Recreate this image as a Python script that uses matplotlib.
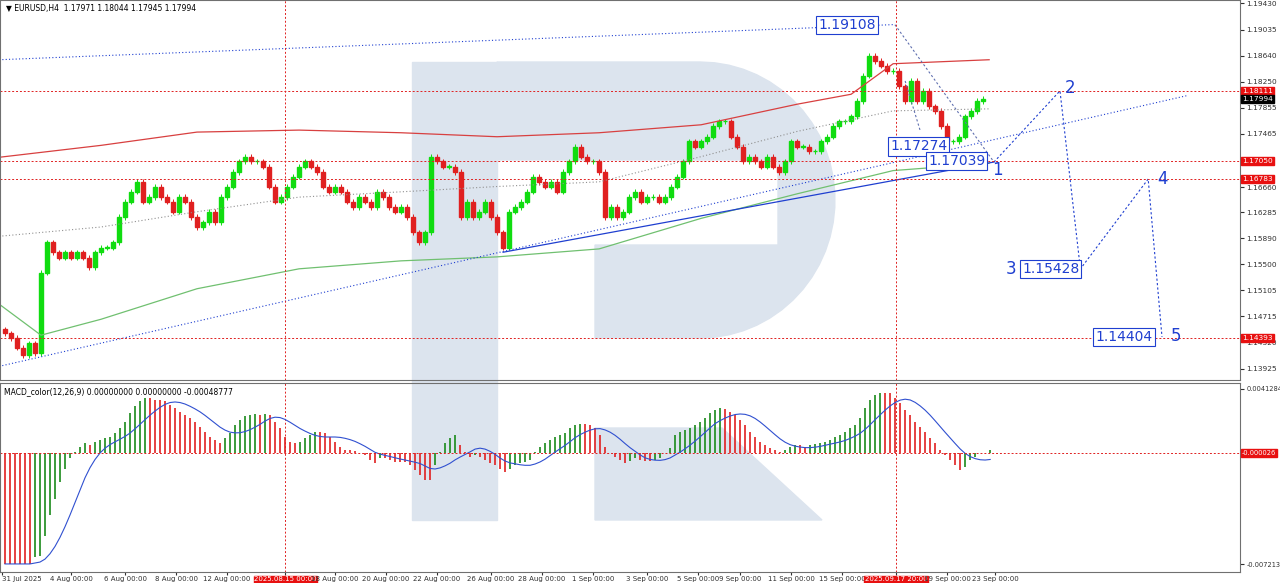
import numpy as np
import pandas as pd
import matplotlib
matplotlib.use("Agg")
import matplotlib.pyplot as plt
from matplotlib.patches import Polygon, Rectangle

# EURUSD H4 closes
closes = [1.1446, 1.1439, 1.1424, 1.1413, 1.1431, 1.1416, 1.1537, 1.1583, 1.1568, 1.1560, 1.1568, 1.1560,
          1.1568, 1.1560, 1.1545, 1.1568, 1.1575, 1.1575, 1.1583, 1.1621, 1.1644, 1.1659, 1.1674, 1.1644,
          1.1651, 1.1667, 1.1651, 1.1644, 1.1629, 1.1651, 1.1644, 1.1621, 1.1606, 1.1613, 1.1629, 1.1613,
          1.1651, 1.1667, 1.1689, 1.1705, 1.1712, 1.1705, 1.1705, 1.1697, 1.1667, 1.1644, 1.1651, 1.1667,
          1.1682, 1.1697, 1.1705, 1.1697, 1.1689, 1.1667, 1.1659, 1.1667, 1.1659, 1.1644, 1.1636, 1.1651,
          1.1644, 1.1636, 1.1659, 1.1651, 1.1636, 1.1629, 1.1636, 1.1621, 1.1598, 1.1583, 1.1598, 1.1712,
          1.1705, 1.1697, 1.1697, 1.1689, 1.1621, 1.1644, 1.1621, 1.1629, 1.1644, 1.1621, 1.1598, 1.1575,
          1.1629, 1.1636, 1.1644, 1.1659, 1.1682, 1.1674, 1.1667, 1.1674, 1.1659, 1.1689, 1.1705, 1.1727,
          1.1712, 1.1705, 1.1705, 1.1689, 1.1621, 1.1636, 1.1621, 1.1629, 1.1651, 1.1659, 1.1644, 1.1651,
          1.1651, 1.1644, 1.1651, 1.1667, 1.1682, 1.1705, 1.1735, 1.1727, 1.1735, 1.1742, 1.1758, 1.1765,
          1.1765, 1.1742, 1.1727, 1.1705, 1.1712, 1.1705, 1.1697, 1.1712, 1.1697, 1.1689, 1.1705, 1.1735,
          1.1727, 1.1727, 1.1720, 1.1720, 1.1735, 1.1742, 1.1758, 1.1765, 1.1765, 1.1773, 1.1796, 1.1834,
          1.1864, 1.1856, 1.1849, 1.1841, 1.1841, 1.1818, 1.1796, 1.1826, 1.1796, 1.1811, 1.1788, 1.1781,
          1.1758, 1.1735, 1.1735, 1.1742, 1.1773, 1.1781, 1.1796, 1.1799]
first_open = 1.1452

# MACD main line values (x 1e-4), one per MACD bar
macd_vals = [-71.8, -71.8, -71.8, -71.8, -71.8, -71.8, -67.5, -66.4, -53.5, -40.5, -29.6, -18.8, -10.2, -3.7,
             0.6, 3.9, 6.1, 5.0, 7.1, 8.2, 9.3, 10.4, 12.6, 15.8, 20.1, 25.5, 29.9, 33.1, 35.3, 35.3, 34.2,
             34.2, 33.1, 30.9, 28.8, 26.6, 24.5, 22.3, 20.1, 16.9, 13.6, 10.4, 8.2, 6.1, 9.3, 12.6, 18.0,
             21.2, 23.4, 24.5, 25.1, 24.5, 25.1, 24.5, 20.1, 15.8, 10.4, 7.1, 6.1, 7.1, 9.3, 11.5, 13.6,
             13.6, 12.6, 10.4, 7.1, 3.9, 1.7, 1.7, 1.1, 0.0, -1.5, -4.8, -6.9, -3.2, -3.7, -4.8, -5.8, -5.8,
             -5.8, -8.0, -11.3, -14.5, -17.7, -17.7, -8.0, 0.6, 6.1, 9.3, 11.5, 5.0, 0.6, -2.6, -1.5, -2.6,
             -4.8, -6.9, -8.0, -10.2, -12.3, -10.2, -8.0, -6.9, -5.8, -4.8, 0.6, 3.9, 6.1, 8.2, 10.4, 11.5,
             12.6, 15.8, 18.0, 18.4, 18.4, 18.0, 15.8, 11.5, 3.9, -0.4, -2.6, -4.8, -6.9, -5.4, -3.2, -4.8,
             -5.4, -5.4, -4.8, -3.7, -0.4, 2.8, 11.5, 13.6, 14.7, 15.8, 18.0, 20.1, 22.3, 25.5, 27.7, 28.8,
             28.3, 26.6, 24.5, 21.2, 18.0, 13.6, 10.4, 7.1, 5.0, 2.8, 1.7, 0.6, 1.7, 3.9, 5.0, 5.0, 3.9, 5.0,
             5.4, 6.1, 7.1, 8.2, 10.4, 11.5, 13.6, 15.8, 18.0, 22.3, 28.8, 34.2, 37.4, 38.5, 38.5, 38.5,
             35.3, 32.0, 27.7, 24.5, 20.1, 16.9, 13.6, 9.3, 6.1, 1.7, -1.5, -4.8, -8.0, -11.3, -9.1, -4.8,
             -2.6, -0.4, 0.0, 1.7]
macd_step = 5 / 6  # MACD bars are drawn denser than the candle list

# moving averages (key points: candle index, price)
red_ma_x = [-1, 16, 32, 49, 66, 82, 99, 116, 132, 141, 148, 164]
red_ma_y = [1.1711, 1.1729, 1.1749, 1.1752, 1.1748, 1.1742, 1.1748, 1.1760, 1.1791, 1.1806, 1.1852, 1.1858]
green_ma_x = [-1, 6, 16, 32, 49, 66, 82, 99, 116, 132, 148, 164]
green_ma_y = [1.1490, 1.1443, 1.1467, 1.1513, 1.1543, 1.1555, 1.1561, 1.1573, 1.1619, 1.1656, 1.1691, 1.1702]
grey_ma_x = [-1, 16, 32, 49, 66, 82, 99, 116, 132, 148, 164]
grey_ma_y = [1.1592, 1.1606, 1.1629, 1.1651, 1.1659, 1.1667, 1.1674, 1.1712, 1.1750, 1.1781, 1.1784]

# wave forecast
wave_x = [164.8, 175.8, 179.2, 190.5, 192.8]
wave_y = [1.17039, 1.18111, 1.15428, 1.16783, 1.14404]
wave_labels = ["1", "2", "3", "4", "5"]
top_x, top_y = 148.3, 1.19108
corr_y = 1.17274

levels = [1.18111, 1.17050, 1.16783, 1.14393]
last_price = 1.17994
yticks = [1.19430, 1.19035, 1.18640, 1.18250, 1.17855, 1.17465, 1.16660, 1.16285,
          1.15890, 1.15500, 1.15105, 1.14715, 1.14320, 1.13925]
date_pos = [-0.5, 11, 20, 28.5, 37, 46.7, 55, 63.5, 72, 81, 89.5, 98, 107, 115.5, 122.5, 131, 139.5, 148.5, 157, 165]
date_labels = ["31 Jul 2025", "4 Aug 00:00", "6 Aug 00:00", "8 Aug 00:00", "12 Aug 00:00", "2025.08.15 00:00",
               "18 Aug 00:00", "20 Aug 00:00", "22 Aug 00:00", "26 Aug 00:00", "28 Aug 00:00", "1 Sep 00:00",
               "3 Sep 00:00", "5 Sep 00:00", "9 Sep 00:00", "11 Sep 00:00", "15 Sep 00:00", "2025.09.17 20:00",
               "19 Sep 00:00", "23 Sep 00:00"]

BLUE = "#1f3fd0"
RED = "#e02020"
GREEN = "#10dc10"

fig = plt.figure(figsize=(12.8, 5.83), dpi=100)
W, H = 1280, 583


def fr(x0, y0, x1, y1):
    return [x0 / W, 1 - y1 / H, (x1 - x0) / W, (y1 - y0) / H]


# watermark logo in pixel space
logo = fig.add_axes([0, 0, 1, 1], zorder=0)
logo.set_xlim(0, W); logo.set_ylim(H, 0); logo.axis("off")
lc = "#dce4ee"
logo.add_patch(Rectangle((412, 62), 85, 458, color=lc))
t = np.linspace(-np.pi / 2, np.pi / 2, 30)
bowl = [(497, 62), (700, 62)] + [(700 + 135 * np.cos(a), 200 + 138 * np.sin(a)) for a in t] + \
       [(700, 338), (595, 338), (595, 245), (778, 245), (778, 160), (497, 160)]
logo.add_patch(Polygon(bowl, color=lc))
logo.add_patch(Polygon([(595, 428), (722, 428), (822, 520), (595, 520)], color=lc))

ax = fig.add_axes(fr(0, 0, 1240, 380), zorder=1)
ax2 = fig.add_axes(fr(0, 383, 1240, 572), zorder=1, sharex=ax)
for a in (ax, ax2):
    a.set_facecolor("none")
    for s in a.spines.values():
        s.set_color("#707070")
    a.tick_params(axis="y", left=False, right=True, labelleft=False, labelright=True,
                  labelsize=5.3, colors="#303030", length=3, pad=1.5)
ax.tick_params(axis="x", bottom=False, labelbottom=False)

c = np.array(closes)
o = np.concatenate([[first_open], c[:-1]])
idx = np.arange(len(c))
for i in idx:
    col = GREEN if c[i] >= o[i] else RED
    hi, lo = max(o[i], c[i]), min(o[i], c[i])
    ax.vlines(i, lo - 0.0004, hi + 0.0004, color=col, lw=0.7)
    ax.add_patch(Rectangle((i - 0.3, lo), 0.6, max(hi - lo, 0.00004), color=col))

ax.plot(red_ma_x, red_ma_y, color="#d84040", lw=0.9)
ax.plot(green_ma_x, green_ma_y, color="#70c070", lw=0.9)
ax.plot(grey_ma_x, grey_ma_y, color="#909090", lw=0.8, ls=(0, (1, 2)))

# trend lines
ax.plot([-1, top_x], [1.1858, 1.1949 - 0.0038], color=BLUE, lw=0.8, ls=(0, (1, 2)))
ax.plot([-1, 197], [1.1396, 1.1804], color=BLUE, lw=0.8, ls=(0, (1, 2)))
ax.plot([83, wave_x[0]], [1.1568, wave_y[0]], color=BLUE, lw=0.9)
ax.plot([top_x, wave_x[0]], [top_y, wave_y[0]], color="#6070b0", lw=0.8, ls=(0, (2, 2)))
ax.plot([150, 152.5], [1.1826, corr_y + 0.0024], color="#6070b0", lw=0.8, ls=(0, (2, 2)))
ax.plot(wave_x, wave_y, color=BLUE, lw=0.8, ls=(0, (2, 2)))

for lv in levels:
    ax.axhline(lv, color=RED, lw=0.7, ls=(0, (2, 2)))
for a in (ax, ax2):
    for xv in (46.7, 148.5):
        a.axvline(xv, color=RED, lw=0.7, ls=(0, (2, 2)))

box = dict(facecolor="white", edgecolor=BLUE, lw=0.8, pad=1.5)
ax.text(135.5, top_y, "1.19108", color=BLUE, fontsize=10, va="center", bbox=box)
ax.text(147.5, corr_y, "1.17274", color=BLUE, fontsize=10, va="center", bbox=box)
ax.text(153.8, wave_y[0] + 0.0002, "1.17039", color=BLUE, fontsize=10, va="center", bbox=box)
ax.text(169.5, wave_y[2], "1.15428", color=BLUE, fontsize=10, va="center", bbox=box)
ax.text(181.7, wave_y[4], "1.14404", color=BLUE, fontsize=10, va="center", bbox=box)
num_off = [(-0.3, -0.0012), (0.8, 0.0004), (-12.5, -0.0000), (1.5, 0.0000), (1.5, 0.0001)]
for (x, y), lab, (dx, dy) in zip(zip(wave_x, wave_y), wave_labels, num_off):
    ax.text(x + dx, y + dy, lab, color=BLUE, fontsize=12, va="center")

ax.set_xlim(-0.83, 205.8)
ax.set_ylim(1.13925 - 0.0017, 1.19430 + 0.0005)
ax.set_yticks(yticks)
ax.set_yticklabels([f"{v:.5f}" for v in yticks])
ax.text(0.005, 0.99, "▼ EURUSD,H4  1.17971 1.18044 1.17945 1.17994", transform=ax.transAxes,
        fontsize=5.5, va="top")
for lv in levels + [last_price]:
    fc = "black" if lv == last_price else "#e81010"
    ax.annotate(f"{lv:.5f}", xy=(1.0, lv), xycoords=("axes fraction", "data"),
                xytext=(1.5, 0), textcoords="offset points", fontsize=5.3, color="white", va="center",
                bbox=dict(facecolor=fc, edgecolor=fc, pad=0.8), annotation_clip=False)

# MACD panel
mv = np.array(macd_vals) * 1e-4
mx = np.arange(len(mv)) * macd_step
signal = pd.Series(mv).rolling(9, min_periods=1).mean()
mcol = ["#1a8a1a" if i > 0 and mv[i] > mv[i - 1] else RED for i in range(len(mv))]
ax2.vlines(mx, 0, mv, colors=mcol, lw=1.2)
ax2.plot(mx, signal, color="#3050d0", lw=0.8)
ax2.axhline(0, color=RED, lw=0.7, ls=(0, (2, 2)))
ax2.set_ylim(-0.0077, 0.0045)
ax2.set_yticks([0.0041284, -0.0072135])
ax2.set_yticklabels(["0.0041284", "-0.0072135"])
ax2.tick_params(axis="y", labelsize=4.8)
ax2.annotate("-0.000026", xy=(1.0, 0), xycoords=("axes fraction", "data"), xytext=(1.5, 0),
             textcoords="offset points", fontsize=4.8, color="white", va="center",
             bbox=dict(facecolor="#e81010", edgecolor="#e81010", pad=0.8), annotation_clip=False)
ax2.text(0.003, 0.98, "MACD_color(12,26,9) 0.00000000 0.00000000 -0.00048777", transform=ax2.transAxes,
         fontsize=5.5, va="top")
ax2.set_xticks(date_pos)
ax2.set_xticklabels(date_labels)
ax2.tick_params(axis="x", labelsize=5.0, length=2, pad=1, colors="#303030")
for lab in ax2.get_xticklabels():
    if lab.get_text().startswith("2025."):
        lab.set_color("white")
        lab.set_bbox(dict(facecolor="#e81010", edgecolor="#e81010", pad=0.3))
ax2.get_xticklabels()[0].set_horizontalalignment("left")

fig.savefig("out.png", dpi=100)
